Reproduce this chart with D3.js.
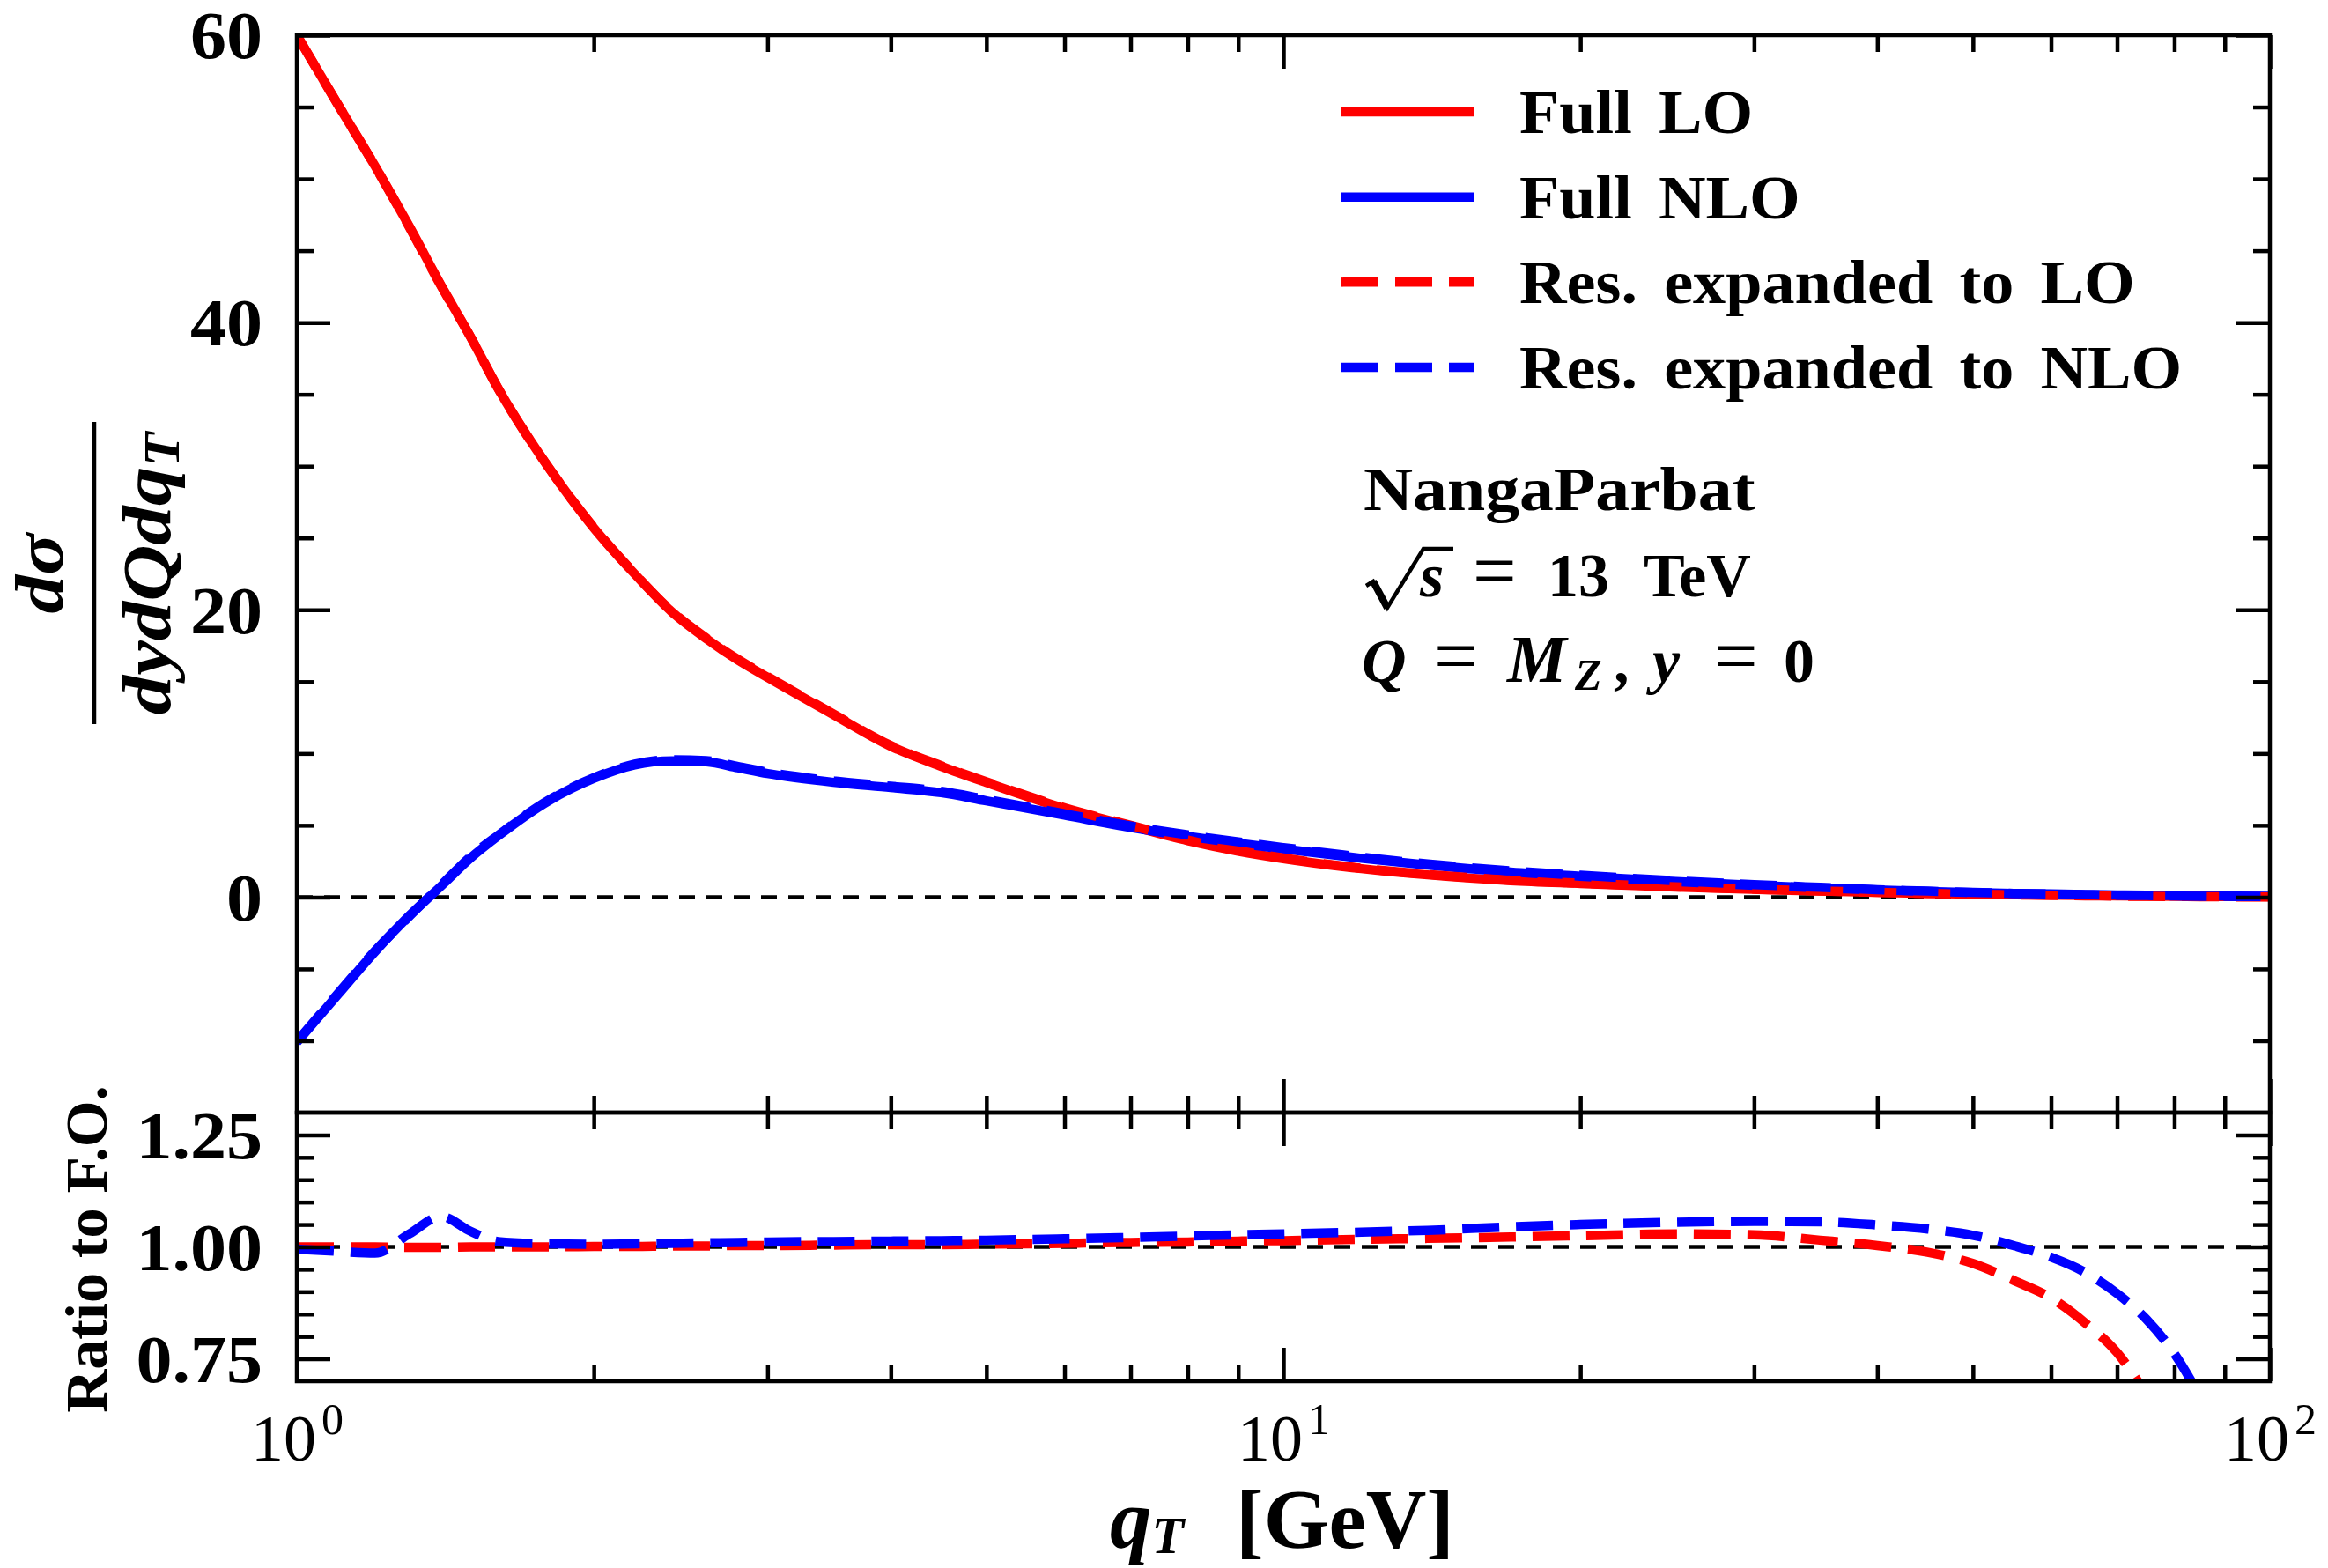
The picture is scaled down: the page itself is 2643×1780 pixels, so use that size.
<!DOCTYPE html>
<html>
<head>
<meta charset="utf-8">
<script src="https://cdn.jsdelivr.net/npm/d3@7"></script>
<style>
  body { margin: 0; background: #fff; }
  svg text { font-family: "Liberation Serif", "Times New Roman", serif; fill: #000; }
</style>
</head>
<body>
<div class="chart"></div>
<script>
// q_T grid (GeV) and the values
const qT = [1, 1.1, 1.2, 1.3, 1.4, 1.5, 1.6, 1.8, 2, 2.2, 2.4, 2.6, 2.8, 3, 3.5, 4, 4.5, 5, 6, 7, 8, 9, 10,
            12, 14, 17, 20, 25, 30, 35, 40, 45, 50, 55, 60, 65, 70, 75, 80, 85, 90, 100];

const fullLO = [60, 55.2, 50.9, 46.7, 42.6, 39.0, 35.4, 29.9, 25.7, 22.5, 19.85, 18.0, 16.5, 15.3, 12.7, 10.5, 9.1, 7.98,
                6.17, 4.95, 3.93, 3.2, 2.68, 1.98, 1.55, 1.15, 0.95, 0.7, 0.54, 0.42, 0.33, 0.26, 0.21, 0.17, 0.14,
                0.11, 0.09, 0.075, 0.06, 0.05, 0.04, 0.03];
const fullNLO = [-10.1, -6.8, -3.8, -1.3, 0.76, 2.72, 4.26, 6.7, 8.26, 9.2, 9.48, 9.42, 9.0, 8.6, 7.99, 7.62, 7.27, 6.7,
                 5.7, 4.85, 4.23, 3.75, 3.35, 2.7, 2.23, 1.75, 1.45, 1.08, 0.82, 0.64, 0.5, 0.4, 0.32, 0.26, 0.22,
                 0.18, 0.15, 0.13, 0.11, 0.095, 0.08, 0.06];
const resLO = [60, 55.2, 50.9, 46.65, 42.55, 39.0, 35.4, 29.9, 25.73, 22.52, 19.89, 18.04, 16.55, 15.35, 12.75, 10.55,
               9.15, 8.03, 6.22, 5.0, 3.97, 3.24, 2.72, 2.01, 1.58, 1.18, 0.97, 0.72, 0.55, 0.43, 0.33, 0.26, 0.2,
               0.16, 0.12, 0.09, 0.07, 0.05, 0.04, 0.03, 0.02, 0.01];
const resNLO = [-10.05, -6.73, -3.75, -1.34, 0.81, 2.82, 4.31, 6.75, 8.31, 9.26, 9.56, 9.5, 9.09, 8.69, 8.09, 7.72, 7.37,
                6.8, 5.8, 4.95, 4.33, 3.85, 3.45, 2.79, 2.31, 1.83, 1.52, 1.14, 0.87, 0.68, 0.52, 0.42, 0.33, 0.26,
                0.21, 0.17, 0.13, 0.11, 0.08, 0.06, 0.05, 0.03];

const ratioLO = [1.000, 1.000, 1.000, 0.999, 0.999, 1.000, 1.000, 1.000, 1.001, 1.001, 1.002, 1.002, 1.003, 1.003,
                 1.004, 1.005, 1.005, 1.006, 1.008, 1.010, 1.011, 1.013, 1.014, 1.017, 1.019, 1.022, 1.025, 1.029,
                 1.027, 1.015, 1.003, 0.988, 0.963, 0.925, 0.886, 0.83, 0.764, 0.67, null, null, null, null];
const ratioNLO = [0.995, 0.990, 0.986, 1.029, 1.068, 1.035, 1.012, 1.007, 1.006, 1.007, 1.008, 1.009, 1.010, 1.011,
                  1.012, 1.013, 1.014, 1.015, 1.018, 1.021, 1.024, 1.027, 1.029, 1.033, 1.037, 1.045, 1.050, 1.055,
                  1.057, 1.056, 1.049, 1.040, 1.026, 1.003, 0.977, 0.943, 0.896, 0.838, 0.762, 0.665, null, null];

const legendLabels = ["Full LO", "Full NLO", "Res. expanded to LO", "Res. expanded to NLO"];

// ticks
const yMajor = [0, 20, 40, 60];
const yMinor = [-10, -5, 5, 10, 15, 25, 30, 35, 45, 50, 55];
const rMajor = [0.75, 1.0, 1.25];
const rMinor = [0.8, 0.85, 0.9, 0.95, 1.05, 1.1, 1.15, 1.2];
const xMajor = [1, 10, 100];
const xMinor = [2, 3, 4, 5, 6, 7, 8, 9, 20, 30, 40, 50, 60, 70, 80, 90];
const xTickExp = ["0", "1", "2"];

const width = 2643, height = 1780;
const pLeft = 337, pRight = 2577, pTop = 40, pMid = 1263, pBottom = 1568;
const sx = 1.08;   // widen Liberation Serif a bit towards Computer Modern

const svg = d3.select('.chart').append('svg')
    .attr('width', width)
    .attr('height', height);
svg.append('rect').attr('width', width).attr('height', height).attr('fill', 'white');

const x = d3.scaleLog().domain([1, 100]).range([pLeft, pRight]);
const y = d3.scaleLinear().domain([-15, 60]).range([pMid, pTop]);
const yR = d3.scaleLinear().domain([0.7, 1.3]).range([pBottom, pMid]);

const defs = svg.append('defs');
defs.append('clipPath').attr('id', 'clip-main').append('rect')
    .attr('x', pLeft).attr('y', pTop).attr('width', pRight - pLeft).attr('height', pMid - pTop);
defs.append('clipPath').attr('id', 'clip-ratio').append('rect')
    .attr('x', pLeft).attr('y', pMid).attr('width', pRight - pLeft).attr('height', pBottom - pMid);

const series = [
    {main: fullLO, ratio: null, color: '#ff0000', dash: null},
    {main: fullNLO, ratio: null, color: '#0000ff', dash: null},
    {main: resLO, ratio: ratioLO, color: '#ff0000', dash: '42,19'},
    {main: resNLO, ratio: ratioNLO, color: '#0000ff', dash: '42,19'}
];

function makeLine(vals, scale) {
    return d3.line()
        .defined((d, i) => vals[i] != null)
        .x(d => x(d))
        .y((d, i) => scale(vals[i]))
        .curve(d3.curveMonotoneX)(qT);
}

// reference lines
const gMain = svg.append('g').attr('clip-path', 'url(#clip-main)');
const gRatio = svg.append('g').attr('clip-path', 'url(#clip-ratio)');

gMain.append('line')
    .attr('x1', pLeft).attr('x2', pRight).attr('y1', y(0)).attr('y2', y(0))
    .attr('stroke', 'black').attr('stroke-width', 4.5).attr('stroke-dasharray', '18,13');
gRatio.append('line')
    .attr('x1', pLeft).attr('x2', pRight).attr('y1', yR(1)).attr('y2', yR(1))
    .attr('stroke', 'black').attr('stroke-width', 4.5).attr('stroke-dasharray', '18,13');

series.forEach(s => {
    gMain.append('path')
        .attr('d', makeLine(s.main, y))
        .attr('fill', 'none')
        .attr('stroke', s.color)
        .attr('stroke-width', 10.5)
        .attr('stroke-linejoin', 'round')
        .attr('stroke-dasharray', s.dash);
    if (s.ratio) {
        gRatio.append('path')
            .attr('d', makeLine(s.ratio, yR))
            .attr('fill', 'none')
            .attr('stroke', s.color)
            .attr('stroke-width', 10.5)
            .attr('stroke-linejoin', 'round')
            .attr('stroke-dasharray', s.dash);
    }
});

// tick marks (all pointing inwards)
function tickOnly(g, axis) {
    g.call(axis);
    g.select('.domain').remove();
    g.selectAll('text').remove();
    g.selectAll('line').attr('stroke', 'black').attr('stroke-width', 4.5);
}
function addTicks(tr, axisFn, scale, values, size) {
    svg.append('g').attr('transform', tr)
        .call(g => tickOnly(g, axisFn(scale).tickValues(values).tickSize(size).tickSizeOuter(0)));
}
[[yMajor, 38], [yMinor, 19]].forEach(([v, s]) => {
    addTicks(`translate(${pLeft},0)`, d3.axisRight, y, v, s);
    addTicks(`translate(${pRight},0)`, d3.axisLeft, y, v, s);
});
[[rMajor, 38], [rMinor, 19]].forEach(([v, s]) => {
    addTicks(`translate(${pLeft},0)`, d3.axisRight, yR, v, s);
    addTicks(`translate(${pRight},0)`, d3.axisLeft, yR, v, s);
});
[[xMajor, 38], [xMinor, 19]].forEach(([v, s]) => {
    addTicks(`translate(0,${pTop})`, d3.axisBottom, x, v, s);
    addTicks(`translate(0,${pMid})`, d3.axisTop, x, v, s);
    addTicks(`translate(0,${pMid})`, d3.axisBottom, x, v, s);
    addTicks(`translate(0,${pBottom})`, d3.axisTop, x, v, s);
});

// frames
[[pTop, pMid], [pMid, pBottom]].forEach(([t, b]) => {
    svg.append('rect')
        .attr('x', pLeft).attr('y', t).attr('width', pRight - pLeft).attr('height', b - t)
        .attr('fill', 'none').attr('stroke', 'black').attr('stroke-width', 4.5);
});

// y tick labels
function yLabels(scale, values, fmt) {
    const g = svg.append('g').attr('transform', `translate(${pLeft},0)`)
        .call(d3.axisLeft(scale).tickValues(values).tickSize(0).tickPadding(39).tickFormat(fmt));
    g.select('.domain').remove();
    g.selectAll('text')
        .attr('font-size', 76)
        .attr('font-weight', 'bold')
        .attr('font-family', '"Liberation Serif", serif')
        .attr('x', -39 / sx)
        .attr('dy', '0.34em')
        .attr('transform', `scale(${sx},1)`);
}
yLabels(y, yMajor, d3.format('d'));
yLabels(yR, rMajor, d3.format('.2f'));

// x tick labels 10^n
const gx = svg.append('g').attr('transform', `translate(0,${pBottom})`)
    .call(d3.axisBottom(x).tickValues(xMajor).tickSize(0).tickFormat(''));
gx.select('.domain').remove();
gx.selectAll('text').each(function (d, i) {
    const t = d3.select(this)
        .attr('y', 90).attr('dy', null)
        .attr('font-size', 74)
        .attr('font-family', '"Liberation Serif", serif')
        .attr('text-anchor', 'middle');
    t.append('tspan').text('10');
    t.append('tspan').attr('dx', 6).attr('dy', -30).attr('font-size', 50).text(xTickExp[i]);
});

// x axis title
const xt = svg.append('text').attr('x', 1260).attr('y', 1757).attr('font-size', 95).attr('font-weight', 'bold');
xt.append('tspan').attr('font-style', 'italic').text('q');
xt.append('tspan').attr('font-style', 'italic').attr('font-size', 60).attr('dy', 6).text('T');
svg.append('text').attr('x', 1403).attr('y', 1757).attr('font-size', 95).attr('font-weight', 'bold')
    .text('[GeV]');

// y axis title (fraction, rotated)
const yl = svg.append('g').attr('transform', 'translate(107,651) rotate(-90)');
yl.append('line').attr('x1', -171).attr('x2', 172).attr('stroke', 'black').attr('stroke-width', 4.5);
yl.append('text').attr('y', -36).attr('text-anchor', 'middle')
    .attr('font-size', 78).attr('font-weight', 'bold').attr('font-style', 'italic')
    .attr('transform', 'scale(1.12,1)')
    .text('dσ');
const den = yl.append('text').attr('y', 86).attr('text-anchor', 'middle')
    .attr('font-size', 78).attr('font-weight', 'bold').attr('font-style', 'italic')
    .attr('transform', 'scale(1.14,1)');
den.append('tspan').text('dydQdq');
den.append('tspan').attr('font-size', 56).attr('dy', 10).text('T');

// ratio title
svg.append('text').attr('transform', 'translate(121,1418) rotate(-90)')
    .attr('text-anchor', 'middle').attr('font-size', 68).attr('font-weight', 'bold')
    .text('Ratio to F.O.');

// legend
const rowY = d3.scalePoint().domain(d3.range(legendLabels.length)).range([127, 417]);
series.forEach((s, i) => {
    svg.append('line')
        .attr('x1', 1523).attr('x2', 1674).attr('y1', rowY(i)).attr('y2', rowY(i))
        .attr('stroke', s.color).attr('stroke-width', 10.5)
        .attr('stroke-dasharray', s.dash);
    svg.append('text')
        .attr('transform', `translate(1725,${rowY(i) + 24}) scale(1.06,1)`)
        .attr('font-size', 70).attr('font-weight', 'bold')
        .attr('word-spacing', 11)
        .text(legendLabels[i]);
});

// annotation
const ann = svg.append('g').attr('font-size', 70).attr('font-weight', 'bold');
ann.append('text').attr('transform', 'translate(1548,579) scale(1.11,1)').text('NangaParbat');

// sqrt(s) = 13 TeV
const g2 = ann.append('g').attr('transform', 'translate(1548,677)');
g2.append('path')
    .attr('d', 'M3,-12 L11,-17 L27,13 L68,-54 L102,-54')
    .attr('fill', 'none').attr('stroke', 'black').attr('stroke-width', 4.5)
    .attr('stroke-linejoin', 'miter');
g2.append('path')
    .attr('d', 'M11,-17 L27,13')
    .attr('fill', 'none').attr('stroke', 'black').attr('stroke-width', 8);
const t2 = g2.append('text');
t2.append('tspan').attr('x', 64).attr('font-style', 'italic').text('s');
t2.append('tspan').attr('x', 124).attr('font-size', 88).attr('font-weight', 'normal').text('=');
t2.append('tspan').attr('x', 209).text('13');
t2.append('tspan').attr('x', 318).text('TeV');

// Q = M_Z, y = 0
const g3 = ann.append('g').attr('transform', 'translate(1548,774)');
const t3 = g3.append('text');
t3.append('tspan').attr('x', -2).attr('font-style', 'italic').text('Q');
t3.append('tspan').attr('x', 80).attr('font-size', 88).attr('font-weight', 'normal').text('=');
t3.append('tspan').attr('x', 163).attr('font-style', 'italic').attr('font-size', 76).text('M');
t3.append('tspan').attr('x', 240).attr('dy', 9).attr('font-size', 50).attr('font-style', 'italic').text('Z');
t3.append('tspan').attr('x', 284).attr('dy', -9).text(',');
t3.append('tspan').attr('x', 328).attr('font-style', 'italic').text('y');
t3.append('tspan').attr('x', 398).attr('font-size', 88).attr('font-weight', 'normal').text('=');
t3.append('tspan').attr('x', 477).text('0');
</script>
</body>
</html>
